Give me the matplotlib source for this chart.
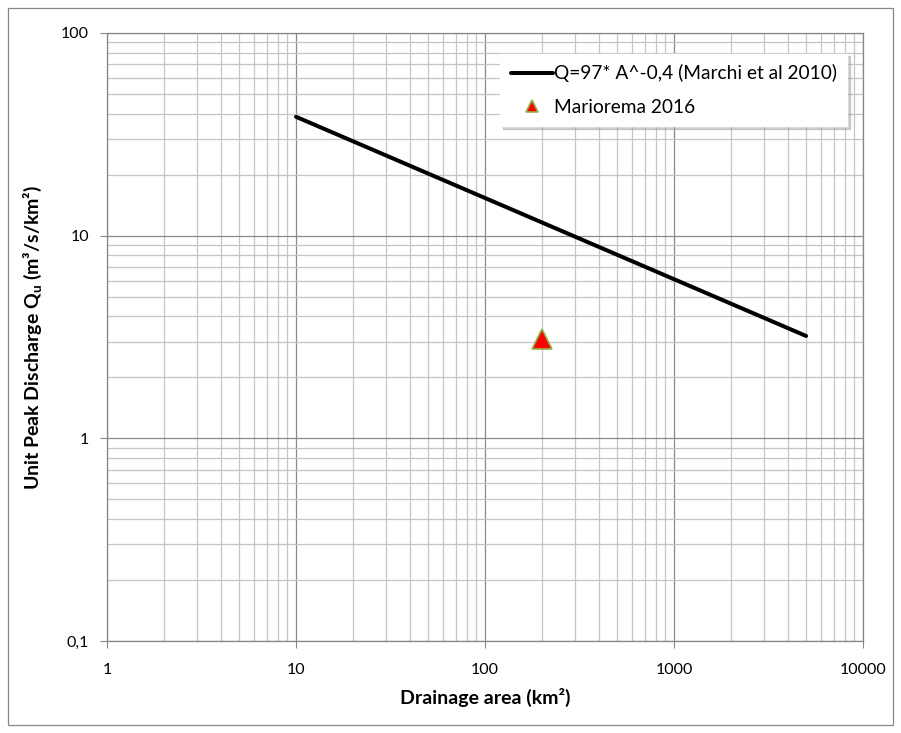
import numpy as np
import matplotlib.pyplot as plt
from matplotlib.ticker import LogLocator, FixedLocator, FuncFormatter, NullFormatter
from matplotlib.patches import Rectangle

plt.rcParams['font.family'] = ['Lato', 'DejaVu Sans']

# Marchi et al 2010 envelope, Q = 97*A^-0.4 (end points)
env_area = [10, 5000]
env_q = [38.6, 3.2]

# Mariorema 2016 event
obs_area = [200]
obs_q = [3.1]

x_ticks = [1, 10, 100, 1000, 10000]
y_ticks = [0.1, 1, 10, 100]

fig = plt.figure(figsize=(9.01, 7.33), dpi=100)
ax = fig.add_axes([107/901, 1 - 641/733, (863-107)/901, (641-33)/733])

ax.set_xscale('log')
ax.set_yscale('log')
ax.set_xlim(1, 10000)
ax.set_ylim(0.1, 100)

ax.plot(env_area, env_q, color='black', lw=2.9, solid_capstyle='round',
        label='Q=97* A^-0,4 (Marchi et al 2010)', zorder=3)
ax.plot(obs_area, obs_q, linestyle='none', marker='^', markersize=15,
        markerfacecolor='#ff0000', markeredgecolor='#8fb54a', markeredgewidth=1.2,
        label='Mariorema 2016', zorder=4)

# grid like excel: light minor, darker major
ax.xaxis.set_major_locator(FixedLocator(x_ticks))
ax.yaxis.set_major_locator(FixedLocator(y_ticks))
ax.xaxis.set_minor_locator(LogLocator(base=10, subs=np.arange(2, 10)))
ax.yaxis.set_minor_locator(LogLocator(base=10, subs=np.arange(2, 10)))
ax.xaxis.set_minor_formatter(NullFormatter())
ax.yaxis.set_minor_formatter(NullFormatter())
ax.grid(which='minor', color='#c4c4c4', lw=0.9)
ax.grid(which='major', color='#8a8a8a', lw=0.9)
ax.set_axisbelow(True)

def fmt(v, pos):
    if v < 1:
        return '0,1'
    return '%d' % v

ax.xaxis.set_major_formatter(FuncFormatter(fmt))
ax.yaxis.set_major_formatter(FuncFormatter(fmt))
ax.tick_params(which='major', length=5, color='#868686', labelsize=11.5)
ax.tick_params(axis='x', which='major', pad=11)
ax.tick_params(axis='y', which='major', pad=8)
ax.tick_params(which='minor', length=0)
for s in ax.spines.values():
    s.set_color('#868686')
    s.set_linewidth(0.9)

ax.set_xlabel('Drainage area (km²)', fontsize=14, fontweight='bold', labelpad=8)
ax.set_ylabel('Unit Peak Discharge Q$_\\mathregular{u}$ (m³/s/km²)', fontsize=14,
              fontweight='bold', labelpad=12)

leg = ax.legend(loc='upper left', bbox_to_anchor=(0.52, 0.966), borderaxespad=0,
                fontsize=13.8, frameon=True, fancybox=False,
                shadow={'color': '#9a9a9a', 'alpha': 0.45},
                framealpha=1, edgecolor='white', markerscale=0.6,
                handlelength=2.2, handletextpad=0.05, labelspacing=0.85,
                borderpad=0.55)

# outer chart border
fig.patches.append(Rectangle((8/901, 8/733), 885/901, 717/733, transform=fig.transFigure,
                             fill=False, edgecolor='#868686', lw=0.9))

fig.savefig('out.png', dpi=100)
